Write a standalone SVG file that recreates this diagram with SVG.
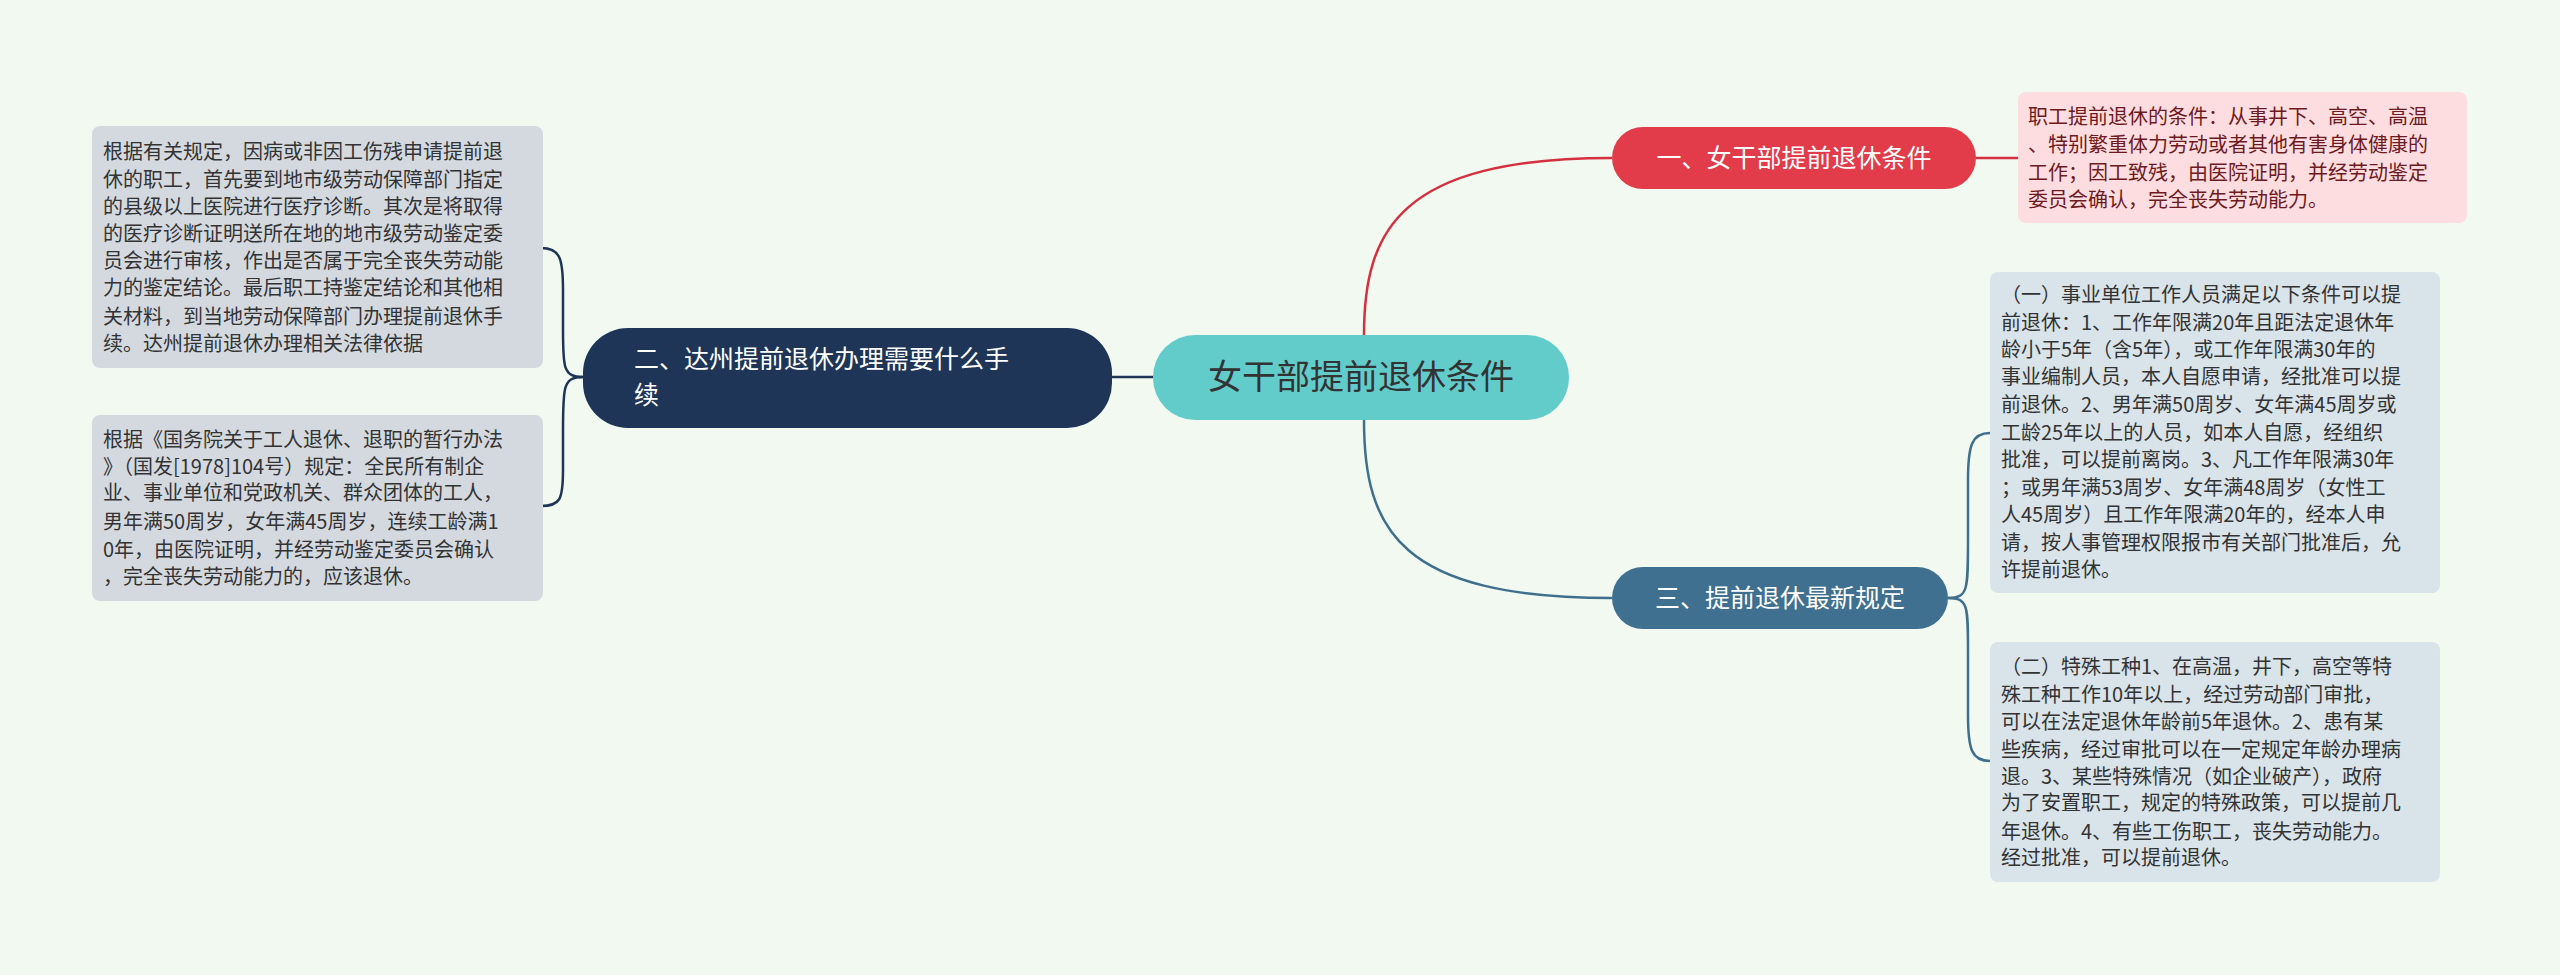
<svg xmlns="http://www.w3.org/2000/svg" width="2560" height="975" viewBox="0 0 2560 975">
<style>
text{font-family:"Noto Sans CJK SC","Noto Sans",sans-serif}
.t{font-size:20px;fill:#333}
.tr{font-size:20px;fill:#6e1a22}
.n{font-size:25px;fill:#fff}
.c{fill:none;stroke-width:2.5}
</style>
<rect width="2560" height="975" fill="#f1f9f0"/>
<g id="connectors">
<path class="c" stroke="#1e3557" d="M1112 377H1153"/>
<path class="c" stroke="#1e3557" d="M583 377C563 377 563 367 563 330V290C563 258 560 248 541 248"/>
<path class="c" stroke="#1e3557" d="M583 377C563 377 563 387 563 430V470C563 500 560 506 541 506"/>
<path class="c" stroke="#d63040" d="M1364 335C1364 230 1400 158 1612 158"/>
<path class="c" stroke="#d63040" d="M1976 158H2018"/>
<path class="c" stroke="#3f6f8f" d="M1364 420C1364 530 1400 598 1612 598"/>
<path class="c" stroke="#3f6f8f" d="M1948 598C1968 598 1968 590 1968 540V480C1968 445 1972 433 1990 433"/>
<path class="c" stroke="#3f6f8f" d="M1948 598C1968 598 1968 606 1968 650V715C1968 750 1972 761 1990 761"/>
</g>
<g id="center">
<rect x="1153" y="335" width="416" height="85" rx="42" fill="#62cccb"/>
<text x="1361" y="389" font-size="34" fill="#333" text-anchor="middle">女干部提前退休条件</text>
</g>
<g id="node2">
<rect x="583" y="328" width="529" height="100" rx="45" fill="#1e3557"/>
<text class="n" x="634" y="368">二、达州提前退休办理需要什么手</text>
<text class="n" x="634" y="404">续</text>
</g>
<g id="leaf2a">
<rect x="92" y="126" width="451" height="242" rx="8" fill="#d4d9e0"/>
<text class="t" x="103" y="159">根据有关规定，因病或非因工伤残申请提前退</text>
<text class="t" x="103" y="187">休的职工，首先要到地市级劳动保障部门指定</text>
<text class="t" x="103" y="214">的县级以上医院进行医疗诊断。其次是将取得</text>
<text class="t" x="103" y="241">的医疗诊断证明送所在地的地市级劳动鉴定委</text>
<text class="t" x="103" y="268">员会进行审核，作出是否属于完全丧失劳动能</text>
<text class="t" x="103" y="295">力的鉴定结论。最后职工持鉴定结论和其他相</text>
<text class="t" x="103" y="324">关材料，到当地劳动保障部门办理提前退休手</text>
<text class="t" x="103" y="351">续。达州提前退休办理相关法律依据</text>
</g>
<g id="leaf2b">
<rect x="92" y="415" width="451" height="186" rx="8" fill="#d4d9e0"/>
<text class="t" x="103" y="447">根据《国务院关于工人退休、退职的暂行办法</text>
<text class="t" x="103" y="474">》（国发[1978]104号）规定：全民所有制企</text>
<text class="t" x="103" y="500">业、事业单位和党政机关、群众团体的工人，</text>
<text class="t" x="103" y="529">男年满50周岁，女年满45周岁，连续工龄满1</text>
<text class="t" x="103" y="557">0年，由医院证明，并经劳动鉴定委员会确认</text>
<text class="t" x="103" y="584">，完全丧失劳动能力的，应该退休。</text>
</g>
<g id="node1">
<rect x="1612" y="127" width="364" height="62" rx="31" fill="#e23c4a"/>
<text class="n" x="1794" y="167" text-anchor="middle">一、女干部提前退休条件</text>
</g>
<g id="leaf1">
<rect x="2018" y="92" width="449" height="131" rx="8" fill="#fddde0"/>
<text class="tr" x="2028" y="124">职工提前退休的条件：从事井下、高空、高温</text>
<text class="tr" x="2028" y="152">、特别繁重体力劳动或者其他有害身体健康的</text>
<text class="tr" x="2028" y="180">工作；因工致残，由医院证明，并经劳动鉴定</text>
<text class="tr" x="2028" y="207">委员会确认，完全丧失劳动能力。</text>
</g>
<g id="node3">
<rect x="1612" y="567" width="336" height="62" rx="31" fill="#40708f"/>
<text class="n" x="1780" y="607" text-anchor="middle">三、提前退休最新规定</text>
</g>
<g id="leaf3a">
<rect x="1990" y="272" width="450" height="321" rx="8" fill="#d9e3ea"/>
<text class="t" x="2001" y="302">（一）事业单位工作人员满足以下条件可以提</text>
<text class="t" x="2001" y="330">前退休：1、工作年限满20年且距法定退休年</text>
<text class="t" x="2001" y="357">龄小于5年（含5年），或工作年限满30年的</text>
<text class="t" x="2001" y="384">事业编制人员，本人自愿申请，经批准可以提</text>
<text class="t" x="2001" y="412">前退休。2、男年满50周岁、女年满45周岁或</text>
<text class="t" x="2001" y="440">工龄25年以上的人员，如本人自愿，经组织</text>
<text class="t" x="2001" y="467">批准，可以提前离岗。3、凡工作年限满30年</text>
<text class="t" x="2001" y="495">；或男年满53周岁、女年满48周岁（女性工</text>
<text class="t" x="2001" y="522">人45周岁）且工作年限满20年的，经本人申</text>
<text class="t" x="2001" y="550">请，按人事管理权限报市有关部门批准后，允</text>
<text class="t" x="2001" y="577">许提前退休。</text>
</g>
<g id="leaf3b">
<rect x="1990" y="642" width="450" height="240" rx="8" fill="#d9e3ea"/>
<text class="t" x="2001" y="674">（二）特殊工种1、在高温，井下，高空等特</text>
<text class="t" x="2001" y="702">殊工种工作10年以上，经过劳动部门审批，</text>
<text class="t" x="2001" y="729">可以在法定退休年龄前5年退休。2、患有某</text>
<text class="t" x="2001" y="757">些疾病，经过审批可以在一定规定年龄办理病</text>
<text class="t" x="2001" y="784">退。3、某些特殊情况（如企业破产），政府</text>
<text class="t" x="2001" y="810">为了安置职工，规定的特殊政策，可以提前几</text>
<text class="t" x="2001" y="839">年退休。4、有些工伤职工，丧失劳动能力。</text>
<text class="t" x="2001" y="865">经过批准，可以提前退休。</text>
</g>
</svg>
